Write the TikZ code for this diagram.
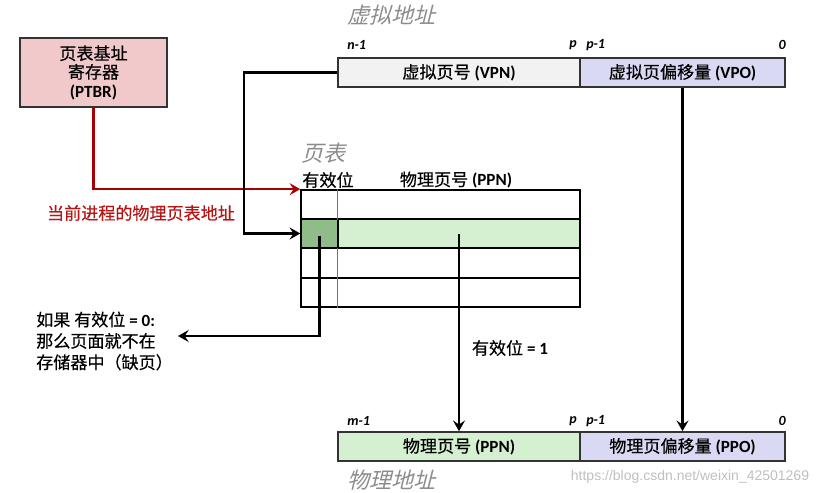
\documentclass[tikz,border=0pt]{standalone}
\usepackage{fontspec}
\setmainfont{Carlito}
\newfontfamily\cjk[FakeBold=0.35]{Noto Sans CJK SC}
\newfontfamily\cjkit[FakeSlant=0.25]{Noto Sans CJK SC}
\usetikzlibrary{arrows.meta}
\definecolor{ptbrfill}{HTML}{F2C9CA}
\definecolor{vpnfill}{HTML}{F2F2F2}
\definecolor{offfill}{HTML}{D9D9F3}
\definecolor{ppnfill}{HTML}{D5F0D0}
\definecolor{validfill}{HTML}{8FBC88}
\definecolor{redline}{HTML}{A80000}
\definecolor{redtext}{HTML}{B81414}
\definecolor{titlegray}{HTML}{8C8C8C}
\newcommand{\zh}[1]{{\cjk #1}}
\begin{document}
\begin{tikzpicture}[x=0.75pt,y=-0.75pt,
  box/.style={draw=black!80,line width=1.2pt,inner sep=0pt,font=\fontsize{12.8}{15}\selectfont},
  cell/.style={draw=black,line width=1.1pt,inner sep=0pt,minimum height=21.9pt},
  bitlbl/.style={font=\fontsize{10.5}{12}\selectfont\bfseries\itshape,inner sep=0pt},
  title/.style={font=\fontsize{16.5}{18}\selectfont\cjkit,text=titlegray,inner sep=0pt},
  lbl/.style={font=\fontsize{12.8}{15}\selectfont,inner sep=0pt},
  arr/.style={line width=1.9pt,-{Stealth[length=8pt,width=9pt,inset=3pt]}}]
\useasboundingbox (0,0) rectangle (833,493);

% PTBR
\node[box,fill=ptbrfill,minimum width=110.25pt,minimum height=51.75pt,align=center] (ptbr) at (93.5,72.5)
  {\zh{页表基址}\\[-1pt]\zh{寄存器}\\[-1pt]\textbf{(PTBR)}};

% virtual address
\node[title,anchor=west] (vatitle) at (347,15) {虚拟地址};
\node[bitlbl,anchor=west] (vn1) at (347,45) {n-1};
\node[bitlbl,anchor=east] (vp) at (577,45) {p};
\node[bitlbl,anchor=west] (vp1) at (586,45) {p-1};
\node[bitlbl,anchor=east] (v0) at (786,45) {0};
\node[box,fill=vpnfill,minimum width=181.5pt,minimum height=21.75pt] (vpn) at (459,72.5)
  {\zh{虚拟页号} \textbf{(VPN)}};
\node[box,fill=offfill,minimum width=153.75pt,minimum height=21.75pt] (vpo) at (682.5,72.5)
  {\zh{虚拟页偏移量} \textbf{(VPO)}};

% page table
\node[title,anchor=west] (pttitle) at (301,153) {页表};
\node[lbl] (validlbl) at (328,180) {\zh{有效位}};
\node[lbl] (ppnlbl) at (456,180) {\zh{物理页号} \textbf{(PPN)}};
\node[cell,minimum width=209.25pt] (r1) at (440.5,204.5) {};
\node[cell,minimum width=209.25pt,fill=ppnfill] (r2) at (440.5,233.5) {};
\node[cell,minimum width=209.25pt] (r3) at (440.5,263) {};
\node[cell,minimum width=209.25pt] (r4) at (440.5,292.5) {};
\node[cell,minimum width=27.75pt,fill=validfill] (v2) at (319.5,233.5) {};
\coordinate (p2) at (459,234);
\draw[black!55,line width=1.1pt] (r1.north west) ++(37,0) coordinate (ctop) -- (ctop |- r1.south);
\draw[black!55,line width=1.1pt] (r3.north west) ++(37,0) coordinate (cmid) -- (cmid |- r4.south);

% red arrow
\draw[redline,arr] (ptbr.south) |- (r1.north west);
\node[lbl,text=redtext] (redlbl) at (141,213) {\zh{当前进程的物理页表地址}};

% VPN to table
\draw[arr] (vpn.west) -- ++(-93,0) |- (v2.west);

% fault
\node[lbl,anchor=west,align=left] (fault) at (36,341)
  {\zh{如果 有效位} \textbf{= 0:}\\[1pt]\zh{那么页面就不在}\\[1pt]\zh{存储器中（缺页）}};
\coordinate (faultend) at (178,336);
\draw[arr] ([yshift=-1.5pt]v2.center) |- (faultend);

% physical address
\node[bitlbl,anchor=west] (pm1) at (347,421) {m-1};
\node[bitlbl,anchor=east] (pp) at (577,421) {p};
\node[bitlbl,anchor=west] (pp1) at (586,421) {p-1};
\node[bitlbl,anchor=east] (p0) at (786,421) {0};
\node[box,fill=ppnfill,minimum width=181.5pt,minimum height=21.75pt] (ppn) at (459,446.5)
  {\zh{物理页号} \textbf{(PPN)}};
\node[box,fill=offfill,minimum width=153.75pt,minimum height=21.75pt] (ppo) at (682.5,446.5)
  {\zh{物理页偏移量} \textbf{(PPO)}};
\node[title,anchor=west] (patitle) at (347,480) {物理地址};

\draw[arr] (p2) -- (ppn.north);
\node[lbl] (v1lbl) at (510,348) {\zh{有效位} \textbf{= 1}};
\draw[arr] (vpo.south) -- (ppo.north);

% watermark
\node[inner sep=0pt,text=black!25,font=\fontspec{Liberation Sans}\fontsize{10.5}{12}\selectfont] (wm) at (690,477) {https://blog.csdn.net/weixin\_42501269};
\end{tikzpicture}
\end{document}
